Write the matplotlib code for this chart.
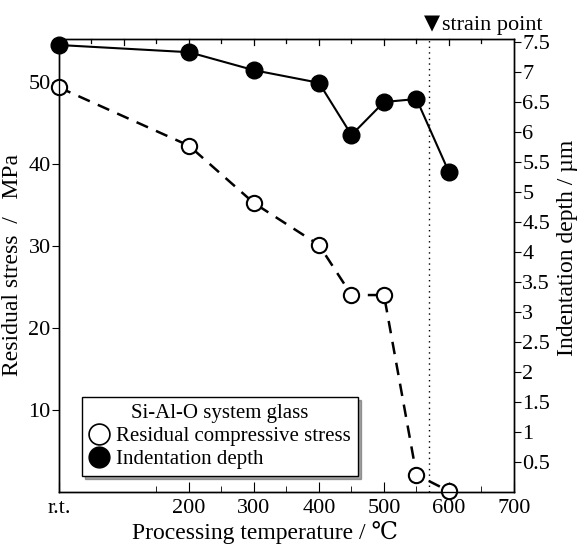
import matplotlib
matplotlib.use("Agg")
import matplotlib.pyplot as plt
from matplotlib.lines import Line2D

plt.rcParams['font.family'] = ['Liberation Serif', 'DejaVu Serif', 'DejaVu Sans']

temps = [0, 200, 300, 400, 450, 500, 550, 600]
stress = [49.3, 42.2, 35.2, 30.1, 24.0, 24.0, 2.1, 0.1]
depth = [7.45, 7.33, 7.03, 6.82, 5.95, 6.50, 6.55, 5.33]
strain_point = 570
xtick_vals = [0, 200, 300, 400, 500, 600, 700]
xtick_labels = ['r.t.', '200', '300', '400', '500', '600', '700']
ytick_left = [10, 20, 30, 40, 50]
ytick_right = [0.5, 1, 1.5, 2, 2.5, 3, 3.5, 4, 4.5, 5, 5.5, 6, 6.5, 7, 7.5]

fig = plt.figure(figsize=(5.83, 5.51), dpi=100)
ax = fig.add_axes([0.1012, 0.1071, 0.7804, 0.8221])
ax2 = ax.twinx()

ax.set_xlim(0, 700)
ax.set_ylim(0, 55.2)
ax2.set_ylim(0, 7.55)

ax.plot(temps, stress, color='black', lw=1.8, dashes=(5, 3.5), marker='o',
        ms=11, mfc='white', mec='black', mew=1.5, clip_on=False, zorder=3)
ax2.plot(temps, depth, color='black', lw=1.5, marker='o',
         ms=12, mfc='black', mec='black', clip_on=False, zorder=3)

ax.axvline(strain_point, color='black', lw=1.0, ls=(0, (1, 3)))

ax.set_xticks(xtick_vals)
ax.set_xticklabels(xtick_labels)
ax.set_xticks(list(range(150, 700, 100)), minor=True)
ax.tick_params(axis='x', which='both', direction='in', top=False, labelsize=16, pad=5)
ax.tick_params(axis='x', which='major', length=7)
ax.tick_params(axis='x', which='minor', length=4)
# top ticks
for v in range(50, 700, 50):
    L = 0.014 if v % 100 == 0 else 0.009
    ax.plot([v, v], [1, 1 - L], transform=ax.get_xaxis_transform(), color='black', lw=0.9, clip_on=False)

ax.set_yticks(ytick_left)
ax.tick_params(axis='y', direction='out', length=5, labelsize=16, pad=1)
ax2.set_yticks(ytick_right)
ax2.set_yticklabels([('%g' % v) for v in ytick_right])
ax2.tick_params(axis='y', direction='out', length=5, labelsize=16, pad=1)

for a in (ax, ax2):
    for s in a.spines.values():
        s.set_linewidth(1.0)

ax.set_xlabel('Processing temperature / \u2103', fontsize=17)
ax.xaxis.set_label_coords(0.453, -0.09, transform=ax.transAxes)
ax.xaxis.label.set_va('center')
ax.set_ylabel('Residual stress  /   MPa', fontsize=17, labelpad=4)
ax2.set_ylabel('Indentation depth / \u00b5m', fontsize=17)
ax2.yaxis.set_label_coords(1.118, 0.539, transform=ax2.transAxes)
ax2.yaxis.label.set_va('center')

ax.text(strain_point - 9, 1.012, '\u25bc', transform=ax.get_xaxis_transform(),
        ha='left', va='bottom', fontsize=15, family=['DejaVu Sans'])
ax.text(strain_point + 20, 1.008, 'strain point', transform=ax.get_xaxis_transform(),
        ha='left', va='bottom', fontsize=16)

handles = [Line2D([], [], ls='none', marker='o', ms=15, mfc='white', mec='black', mew=1.2),
           Line2D([], [], ls='none', marker='o', ms=15, mfc='black', mec='black')]
leg = ax2.legend(handles, ['Residual compressive stress', 'Indentation depth'],
                 title='Si-Al-O system glass', loc='lower left',
                 bbox_to_anchor=(0.05, 0.035), frameon=True, fancybox=False, shadow=True,
                 edgecolor='black', fontsize=15, title_fontsize=15,
                 handletextpad=0.3, handlelength=1.0, borderpad=0.35, labelspacing=0.15,
                 borderaxespad=0)
leg.get_frame().set_linewidth(1.0)

fig.savefig('out.png', dpi=100)
